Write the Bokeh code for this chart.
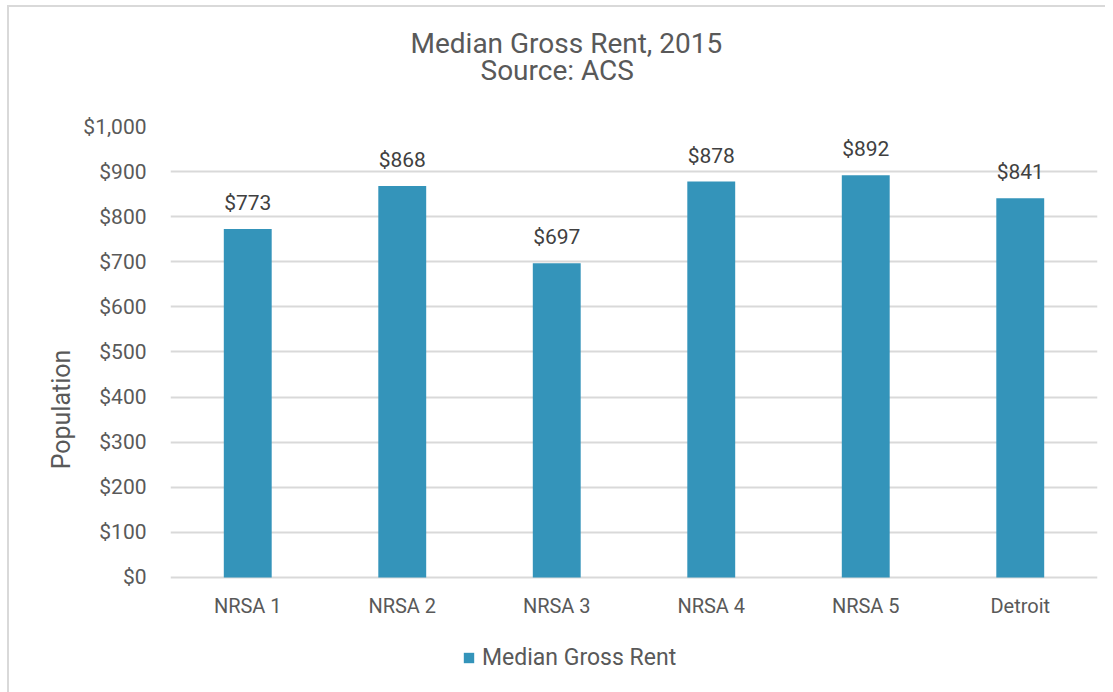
from bokeh.plotting import figure
from bokeh.models import ColumnDataSource, FactorRange, Range1d, Title, Legend, LegendItem, NumeralTickFormatter, FixedTicker
from bokeh.core.properties import value
from bokeh.embed import file_html
from bokeh.resources import INLINE

categories = ["NRSA 1", "NRSA 2", "NRSA 3", "NRSA 4", "NRSA 5", "Detroit"]
rent = [773, 868, 697, 878, 892, 841]
labels = ["$773", "$868", "$697", "$878", "$892", "$841"]
y_ticks = [0, 100, 200, 300, 400, 500, 600, 700, 800, 900, 1000]

FONT = "Roboto"
GREY = "#595959"
BAR = "#3494BA"

src = ColumnDataSource(dict(cat=categories, rent=rent, lab=labels))

# frame extends below $0 so the category labels and the legend can sit inside it
p = figure(x_range=FactorRange(*categories, range_padding=0), y_range=Range1d(-255, 1000),
           frame_width=927, frame_height=566, output_backend="svg", toolbar_location=None,
           min_border_left=161, min_border_right=8, min_border_top=119, min_border_bottom=0)
p.margin = (5, 0, 0, 7)
p.styles = {"border-left": "2px solid #d9d9d9", "border-top": "2px solid #d9d9d9"}
p.outline_line_color = None

r = p.vbar(x="cat", top="rent", width=0.31, source=src, fill_color=BAR, line_color=None)

p.text(x="cat", y="rent", text="lab", source=src, text_align="center", text_baseline="bottom",
       y_offset=-14, text_font=value(FONT), text_font_size="21px", text_color="#404040",
       text_font_style="normal")

# category labels under the $0 line
p.text(x="cat", y=0, text="cat", source=src, text_align="center", text_baseline="top",
       y_offset=17, text_font=value(FONT), text_font_size="20px", text_color=GREY)

spacer = Title(text=" ", align="left", text_font=FONT, text_font_size="32px", standoff=0)
sub = Title(text="Source: ACS", align="left", text_font=FONT, text_font_size="28px",
            text_color=GREY, text_font_style="normal", standoff=0, offset=310)
tit = Title(text="Median Gross Rent, 2015", align="left", text_font=FONT, text_font_size="28px",
            text_color=GREY, text_font_style="normal", standoff=-16, offset=240)
p.add_layout(spacer, "above")
p.add_layout(sub, "above")
p.add_layout(tit, "above")

p.xaxis.visible = False
p.xgrid.grid_line_color = None
p.ygrid.grid_line_color = "#d9d9d9"
p.ygrid.grid_line_width = 2
p.ygrid.ticker = FixedTicker(ticks=y_ticks)
p.yaxis.ticker = FixedTicker(ticks=y_ticks)
p.yaxis.bounds = (0, 1000)
p.yaxis.formatter = NumeralTickFormatter(format="$0,0")

ax = p.yaxis[0]
ax.axis_line_color = None
ax.major_tick_line_color = None
ax.minor_tick_line_color = None
ax.major_label_text_font = FONT
ax.major_label_text_color = GREY
ax.major_label_text_font_size = "21px"
ax.major_label_standoff = 18
ax.axis_label = "Population"
ax.axis_label_text_font = FONT
ax.axis_label_text_font_size = "25px"
ax.axis_label_text_font_style = "normal"
ax.axis_label_text_color = GREY
ax.axis_label_standoff = 4

legend = Legend(items=[LegendItem(label="Median Gross Rent", renderers=[r])],
                orientation="horizontal", location=(292, 21),
                label_text_font=FONT, label_text_font_size="23px", label_text_color=GREY,
                glyph_width=13, glyph_height=13, border_line_color=None, margin=0,
                padding=0, label_standoff=7, background_fill_alpha=0)
p.add_layout(legend, "center")

open("out.html", "w").write(file_html(p, INLINE))
